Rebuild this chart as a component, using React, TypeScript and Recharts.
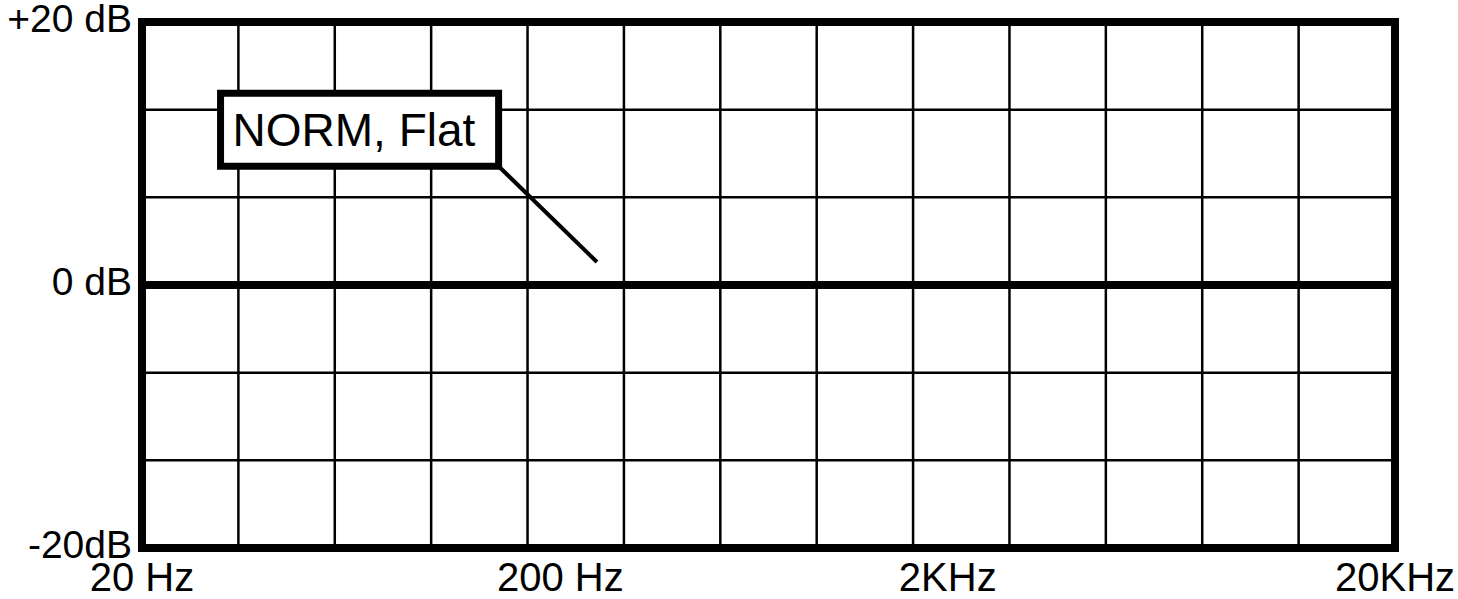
import React from 'react';
import {
  LineChart, Line, XAxis, YAxis, CartesianGrid, ReferenceArea, ReferenceLine,
} from 'recharts';

// x runs in grid divisions (13 columns), y in dB
const gridCols = [0, 1, 2, 3, 4, 5, 6, 7, 8, 9, 10, 11, 12, 13];
const gridRows = [-20, -13.333, -6.667, 0, 6.667, 13.333, 20];

const freqTickPos = [0, 4.34, 8.36, 13];
const freqLabels = ['20 Hz', '200 Hz', '2KHz', '20KHz'];

const dbTicks = [20, 0, -20];
const dbLabels = ['+20 dB', '0 dB', '-20dB'];

// response curve: NORM, Flat
const responseDiv = [0, 13];
const responseDb = [0, 0];

const noteText = 'NORM, Flat';
const noteBox = { x1: 0.815, x2: 3.7, y1: 9.03, y2: 14.59 };
const noteLeader = [{ x: 3.7, y: 9.03 }, { x: 4.72, y: 1.75 }];

const data = responseDiv.map((d, i) => ({ div: d, db: responseDb[i] }));

const FONT = '"Liberation Sans", Arial, Helvetica, sans-serif';

const FreqTick = (props: any) => {
  const { x, y, payload } = props;
  const i = freqTickPos.indexOf(payload.value);
  return (
    <text x={x} y={y} dy={43} textAnchor="middle" fontSize={40} fontFamily={FONT} fill="#000">
      {freqLabels[i]}
    </text>
  );
};

const DbTick = (props: any) => {
  const { x, y, payload } = props;
  const i = dbTicks.indexOf(payload.value);
  return (
    <text x={x} y={y} dy={10} textAnchor="end" fontSize={39} fontFamily={FONT} fill="#000">
      {dbLabels[i]}
    </text>
  );
};

export default function App() {
  return (
    <div style={{ position: 'absolute', left: 0, top: 0, background: '#fff' }}>
      <LineChart width={1458} height={599} data={data} margin={{ top: 22, right: 63, bottom: 0, left: 0 }}>
        <XAxis xAxisId="grid" type="number" dataKey="div" domain={[0, 13]} ticks={gridCols} hide />
        <YAxis yAxisId="grid" type="number" dataKey="db" domain={[-20, 20]} ticks={gridRows} hide />
        <CartesianGrid xAxisId="grid" yAxisId="grid" stroke="#000" strokeWidth={2.5} strokeOpacity={1} />
        <XAxis
          type="number"
          dataKey="div"
          domain={[0, 13]}
          ticks={freqTickPos}
          interval={0}
          tick={<FreqTick />}
          tickLine={false}
          axisLine={false}
          tickSize={0}
          tickMargin={0}
          height={51}
        />
        <YAxis
          type="number"
          domain={[-20, 20]}
          ticks={dbTicks}
          interval={0}
          tick={<DbTick />}
          tickLine={false}
          axisLine={false}
          tickSize={0}
          tickMargin={10}
          width={142}
        />
        <ReferenceArea
          x1={noteBox.x1}
          x2={noteBox.x2}
          y1={noteBox.y1}
          y2={noteBox.y2}
          fill="#fff"
          fillOpacity={1}
          stroke="#000"
          strokeWidth={7}
          label={{ value: noteText, position: 'insideLeft', offset: 12, fontSize: 46, fill: '#000', fontFamily: FONT }}
        />
        <ReferenceLine segment={noteLeader} stroke="#000" strokeWidth={4} />
        <ReferenceArea x1={0} x2={13} y1={-20} y2={20} fill="none" stroke="#000" strokeWidth={8} />
        <Line
          type="linear"
          dataKey="db"
          stroke="#000"
          strokeWidth={8}
          dot={false}
          isAnimationActive={false}
        />
      </LineChart>
    </div>
  );
}
